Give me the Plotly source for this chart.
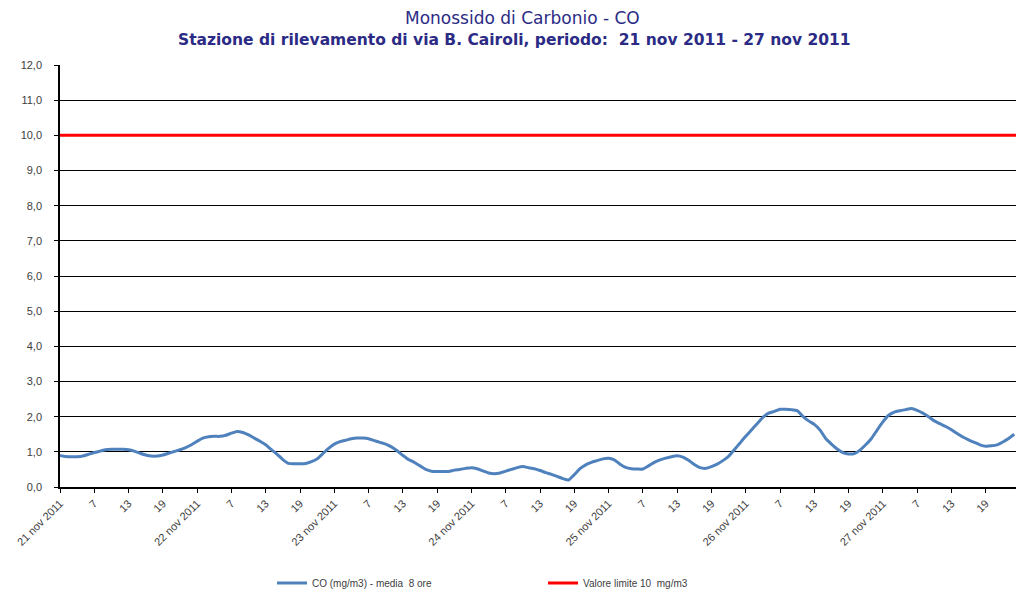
import plotly.graph_objects as go

# Hourly 8-hour running mean of CO (mg/m3), 21 nov 2011 h1 .. 27 nov 2011 h24
co_values = [
    0.90, 0.87, 0.86, 0.86, 0.88, 0.93, 0.98, 1.02, 1.06, 1.07, 1.07, 1.07,
    1.06, 1.02, 0.96, 0.91, 0.88, 0.88, 0.91, 0.96, 1.01, 1.06, 1.12, 1.20,
    1.30, 1.39, 1.43, 1.44, 1.44, 1.47, 1.53, 1.58, 1.55, 1.48, 1.39, 1.30,
    1.20, 1.06, 0.93, 0.78, 0.67, 0.66, 0.66, 0.67, 0.72, 0.80, 0.95, 1.10,
    1.22, 1.29, 1.33, 1.37, 1.39, 1.39, 1.37, 1.32, 1.27, 1.22, 1.14, 1.03,
    0.90, 0.78, 0.70, 0.60, 0.50, 0.45, 0.44, 0.44, 0.44, 0.48, 0.50, 0.53,
    0.55, 0.52, 0.46, 0.40, 0.38, 0.40, 0.45, 0.50, 0.55, 0.58, 0.55, 0.52,
    0.47, 0.41, 0.36, 0.30, 0.24, 0.20, 0.35, 0.52, 0.63, 0.70, 0.75, 0.80,
    0.82, 0.77, 0.65, 0.56, 0.52, 0.51, 0.51, 0.60, 0.70, 0.77, 0.82, 0.86,
    0.89, 0.85, 0.76, 0.64, 0.55, 0.53, 0.58, 0.65, 0.75, 0.87, 1.06, 1.25,
    1.44, 1.62, 1.80, 1.98, 2.10, 2.15, 2.21, 2.21, 2.20, 2.17, 2.01, 1.88,
    1.78, 1.62, 1.38, 1.22, 1.08, 0.98, 0.94, 0.95, 1.05, 1.20, 1.38, 1.62,
    1.85, 2.04, 2.13, 2.17, 2.20, 2.23, 2.18, 2.10, 2.00, 1.88, 1.80, 1.72,
    1.63, 1.52, 1.42, 1.34, 1.27, 1.20, 1.16, 1.17, 1.20, 1.28, 1.38, 1.50,
]
hours = list(range(len(co_values)))

limit_value = 10.0
days = ["21 nov 2011", "22 nov 2011", "23 nov 2011", "24 nov 2011",
        "25 nov 2011", "26 nov 2011", "27 nov 2011"]
hour_labels = ["7", "13", "19"]

tick_vals = []
tick_text = []
for d, day in enumerate(days):
    tick_vals.append(d * 24)
    tick_text.append(day)
    for k, h in enumerate(hour_labels):
        tick_vals.append(d * 24 + 6 * (k + 1))
        tick_text.append(h)

y_ticks = [i * 1.0 for i in range(13)]

fig = go.Figure()
fig.add_trace(go.Scatter(
    x=hours, y=co_values, mode="lines",
    name="CO (mg/m3) - media  8 ore",
    line=dict(color="#4F81BD", width=3, shape="spline", smoothing=0.6),
))
fig.add_trace(go.Scatter(
    x=[hours[0], hours[-1] + 0.5], y=[limit_value, limit_value], mode="lines",
    name="Valore limite 10  mg/m3",
    line=dict(color="#FF0000", width=3),
))

W, H = 1016, 593
PL, PR, PT, PB = 60, 1016, 65, 487
PW, PH = PR - PL, PB - PT

title_color = "#2B2B85"
fig.update_layout(
    width=W, height=H,
    margin=dict(l=PL, r=W - PR, t=PT, b=H - PB, autoexpand=False),
    paper_bgcolor="white", plot_bgcolor="white",
    separators=",.",
    showlegend=True,
    legend=dict(orientation="h", x=(272 - PL) / PW, xanchor="left",
                y=-(583 - PB) / PH, yanchor="middle",
                font=dict(family="Liberation Sans, Arial", size=10, color="#404040"),
                entrywidth=226, entrywidthmode="pixels", itemwidth=30),
    annotations=[
        dict(text="Monossido di Carbonio - CO", xref="paper", yref="paper",
             x=(522 - PL) / PW, y=1 + (PT - 18) / PH,
             xanchor="center", yanchor="middle", showarrow=False,
             font=dict(family="DejaVu Sans", size=17, color=title_color)),
        dict(text="<b>Stazione di rilevamento di via B. Cairoli, periodo:  21 nov 2011 - 27 nov 2011</b>",
             xref="paper", yref="paper",
             x=(514 - PL) / PW, y=1 + (PT - 40) / PH,
             xanchor="center", yanchor="middle", showarrow=False,
             font=dict(family="DejaVu Sans", size=15.5, color=title_color)),
    ],
)
fig.update_xaxes(
    range=[0, 167.3], tickmode="array", tickvals=tick_vals, ticktext=tick_text,
    tickangle=-45, ticks="outside", ticklen=4, tickcolor="black",
    showline=True, linecolor="black", linewidth=1.5, showgrid=False, zeroline=False,
    tickfont=dict(family="Liberation Sans, Arial", size=11, color="#404040"),
    automargin=False,
)
fig.update_yaxes(
    range=[0, 12], tickmode="array", tickvals=y_ticks, tickformat=".1f",
    showgrid=True, gridcolor="black", gridwidth=1.2,
    showline=True, linecolor="black", linewidth=1.5, zeroline=False,
    ticks="outside", ticklen=4, tickcolor="black",
    tickfont=dict(family="Liberation Sans, Arial", size=11, color="#404040"),
    ticklabelstandoff=10, automargin=False,
)

fig.write_html(
    "out.html",
    config={"displayModeBar": False},
    post_script="document.body.style.margin='0px';document.body.style.overflow='hidden';",
)
